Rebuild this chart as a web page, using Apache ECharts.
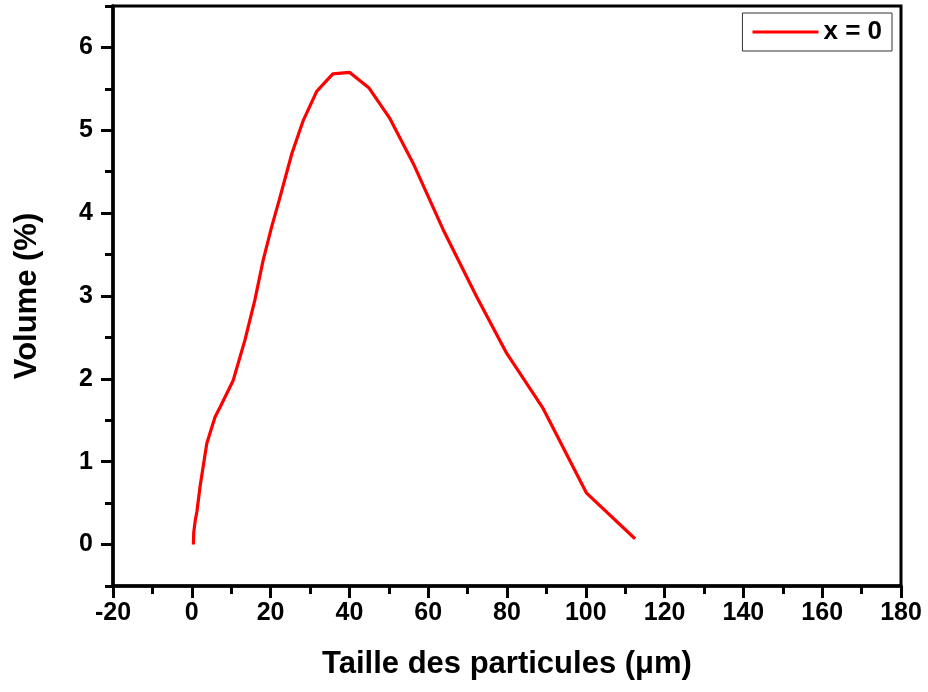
<!DOCTYPE html>
<html lang="fr">
<head>
  <meta charset="UTF-8" />
  <title>Distribution granulométrique</title>
  <script src="https://cdn.jsdelivr.net/npm/echarts@6/dist/echarts.min.js"></script>
  <style>
    body { margin: 0; background: #fff; }
    #chart { width: 928px; height: 692px; }
  </style>
</head>
<body>
  <div id="chart"></div>
  <script>
    // particle size (µm) and volume (%)
    const sizes = [0.4, 0.5, 0.9, 1.3, 2.1, 3.8, 5.9, 7.2, 10.5, 13.5, 16, 18.1, 20.3, 22.2,
                   25.4, 28.3, 31.7, 35.8, 40, 45, 50.3, 56.2, 63.8, 72.3, 79.9, 89.2, 100.2, 112.5];
    const volumes = [0, 0.15, 0.3, 0.4, 0.7, 1.22, 1.54, 1.66, 1.98, 2.47, 2.95, 3.43, 3.84, 4.16,
                     4.72, 5.12, 5.47, 5.68, 5.7, 5.51, 5.14, 4.6, 3.8, 2.99, 2.31, 1.64, 0.62, 0.07];
    const seriesName = 'x = 0';
    const yMajor = [0, 1, 2, 3, 4, 5, 6];
    const yMinor = [-0.5, 0.5, 1.5, 2.5, 3.5, 4.5, 5.5, 6.5];

    const font = "'Liberation Sans', Arial, sans-serif";
    const chart = echarts.init(document.getElementById('chart'));

    const baseY = {
      type: 'value', min: -0.5, max: 6.5, position: 'left',
      splitLine: { show: false }
    };

    chart.setOption({
      animation: false,
      grid: {
        left: 113, right: 27, top: 6, bottom: 106,
        show: true, borderColor: '#000', borderWidth: 3
      },
      legend: {
        right: 36, top: 13,
        padding: [6, 10, 6, 10],
        borderColor: '#333', borderWidth: 1,
        icon: 'rect',
        itemWidth: 66, itemHeight: 3,
        textStyle: { fontFamily: font, fontWeight: 'bold', fontSize: 26, color: '#000' },
        data: [seriesName]
      },
      xAxis: {
        type: 'value', min: -20, max: 180, interval: 20,
        name: 'Taille des particules (μm)',
        nameLocation: 'middle', nameGap: 63,
        nameTextStyle: { fontFamily: font, fontWeight: 'bold', fontSize: 31, color: '#000' },
        axisLine: { onZero: false, lineStyle: { color: '#000', width: 3.5 } },
        axisTick: { length: 12, lineStyle: { color: '#000', width: 3 } },
        minorTick: { show: true, splitNumber: 2, length: 8, lineStyle: { color: '#000', width: 3 } },
        axisLabel: { margin: 15, fontFamily: font, fontWeight: 'bold', fontSize: 25, color: '#000' },
        splitLine: { show: false }
      },
      yAxis: [
        Object.assign({}, baseY, {
          name: 'Volume (%)',
          nameLocation: 'middle', nameGap: 70,
          nameTextStyle: { fontFamily: font, fontWeight: 'bold', fontSize: 31, color: '#000' },
          axisLine: { onZero: false, lineStyle: { color: '#000', width: 3.5 } },
          axisTick: { length: 12, customValues: yMajor, lineStyle: { color: '#000', width: 3 } },
          axisLabel: { margin: 20, customValues: yMajor, fontFamily: font, fontWeight: 'bold', fontSize: 25, color: '#000' }
        }),
        Object.assign({}, baseY, {
          axisLine: { show: false, onZero: false },
          axisTick: { show: true, length: 8, customValues: yMinor, lineStyle: { color: '#000', width: 3 } },
          axisLabel: { show: false }
        })
      ],
      series: [{
        name: seriesName,
        type: 'line',
        data: sizes.map((s, i) => [s, volumes[i]]),
        symbol: 'none',
        lineStyle: { color: '#ff0000', width: 3.2 },
        itemStyle: { color: '#ff0000' }
      }]
    });
  </script>
</body>
</html>
